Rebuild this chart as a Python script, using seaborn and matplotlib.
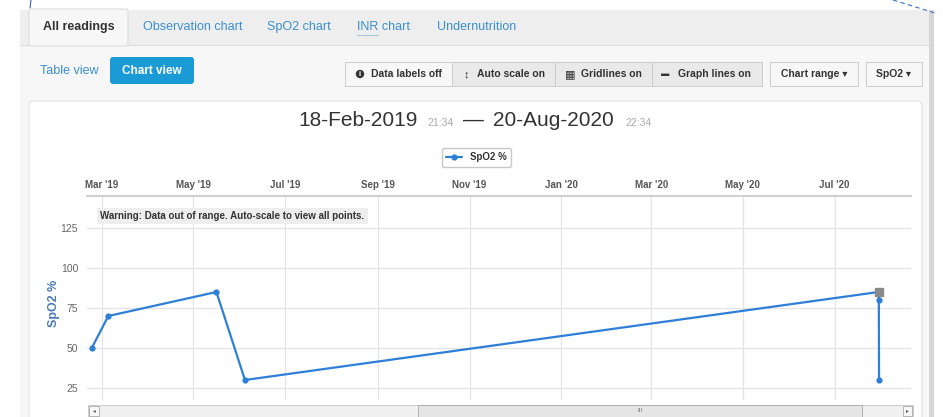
import numpy as np
import pandas as pd
import matplotlib
matplotlib.use("Agg")
import matplotlib.pyplot as plt
import matplotlib.dates as mdates
from matplotlib.patches import FancyBboxPatch, Rectangle, Circle
import seaborn as sns

# DATA
######################################################
reading_dates = ["2019-02-22 10:00", "2019-03-05 10:00", "2019-05-16 10:00",
                 "2019-06-04 10:00", "2020-07-30 08:00", "2020-07-30 12:00",
                 "2020-07-30 16:00"]
spo2_values = [50, 70, 85, 30, 85, 80, 30]
flagged_index = 4  # reading shown with the grey marker
range_start = "2019-02-18 21:34"
range_end = "2020-08-20 22:34"
y_ticks = [25, 50, 75, 100, 125]
tab_labels = ["All readings", "Observation chart", "SpO2 chart", "INR chart", "Undernutrition"]
toggle_labels = ["Data labels off", "Auto scale on", "Gridlines on", "Graph lines on"]
menu_labels = ["Chart range \u25be", "SpO2 \u25be"]

df = pd.DataFrame({"date": pd.to_datetime(reading_dates), "spo2": spo2_values})

# FIGURE / UI LAYER (pixel coordinates)
######################################################
sns.set_style("white")
plt.rcParams["font.family"] = ["Liberation Sans", "DejaVu Sans"]

W, H = 943, 417
fig = plt.figure(figsize=(W / 100, H / 100), dpi=100)
ui = fig.add_axes([0, 0, 1, 1], zorder=0)
ui.set_xlim(0, W)
ui.set_ylim(H, 0)
ui.axis("off")

def box(x0, y0, x1, y1, fc, ec="none", lw=0.8, r=0, z=1):
    style = "round,pad=0,rounding_size=%s" % r if r else "square,pad=0"
    p = FancyBboxPatch((x0, y0), x1 - x0, y1 - y0, boxstyle=style,
                       fc=fc, ec=ec, lw=lw, zorder=z)
    ui.add_patch(p)

def txt(x, y, s, size=8.5, color="#333333", weight="normal", ha="left", va="center", **kw):
    ui.text(x, y, s, fontsize=size, color=color, fontweight=weight, ha=ha, va=va, **kw)

# page background
box(20, 10, 930, 417, "#f7f7f7")
box(20, 10, 930, 45, "#eeeeee")
ui.plot([20, 930], [45, 45], color="#dddddd", lw=0.8)
box(929, 10, 934, 417, "#d6d6d6")
# screenshot annotations
ui.plot([31, 30], [0, 8], color="#3b5fc0", lw=0.8)
ui.plot([893, 935], [0, 13], color="#3b6fd0", lw=0.8, ls=(0, (4, 3)))

# tabs
box(29, 9, 128, 46, "#f7f7f7", ec="#dddddd", r=2, z=2)
txt(43, 27, tab_labels[0], size=9, weight="bold")
tab_x = [143, 267, 357, 437]
for x, lab in zip(tab_x, tab_labels[1:]):
    txt(x, 27, lab, size=9, color="#3a8fd0")
ui.plot([357, 378], [34.5, 34.5], color="#3a8fd0", lw=0.6, ls=(0, (1, 1)))

# view switch
txt(40, 71, "Table view", size=9, color="#3a8fd0")
box(110, 57, 194, 84, "#1a9bd6", r=3)
txt(152, 70.5, "Chart view", size=8.5, color="white", weight="bold", ha="center")

# toggle group
edges = [345, 452, 555, 652, 762]
fills = ["#f7f7f7", "#e9e9e9", "#e9e9e9", "#e9e9e9"]
for i in range(4):
    box(edges[i], 62, edges[i + 1], 86, fills[i], ec="#cccccc", lw=0.7)
icons_x = [360, 466, 570, 665]
ui.add_patch(Circle((icons_x[0], 74), 4.2, fc="#333333", ec="none", zorder=3))
txt(icons_x[0], 74, "i", size=5.5, color="white", weight="bold", ha="center")
txt(icons_x[1], 74, "\u2195", size=8, ha="center")
txt(icons_x[2], 74, "\u25a6", size=8, ha="center")
txt(icons_x[3], 74, "\u25ac", size=6, ha="center")
text_x = [371, 477, 581, 678]
for x, lab in zip(text_x, toggle_labels):
    txt(x, 74, lab, size=7.5, weight="bold")
box(770, 62, 858, 86, "#f7f7f7", ec="#cccccc", lw=0.7)
box(866, 62, 922, 86, "#f7f7f7", ec="#cccccc", lw=0.7)
txt(814, 74, menu_labels[0], size=7.5, weight="bold", ha="center")
txt(894, 74, menu_labels[1], size=7.5, weight="bold", ha="center")

# chart panel
box(29, 101, 922, 430, "white", ec="#e2e2e2", r=4)

# header with range
txt(298, 126, pd.Timestamp(range_start).strftime("%d-%b-%Y"), size=15, va="baseline")
txt(427, 126, pd.Timestamp(range_start).strftime("%H:%M"), size=7.5, color="#aaaaaa", va="baseline")
txt(463, 126, "\u2014", size=15, va="baseline")
txt(493, 126, pd.Timestamp(range_end).strftime("%d-%b-%Y"), size=15, va="baseline")
txt(625, 126, pd.Timestamp(range_end).strftime("%H:%M"), size=7.5, color="#aaaaaa", va="baseline")

# scrollbar
box(88, 405, 913, 420, "#f0f0f0", ec="#cccccc", lw=0.7)
box(89, 406, 99, 416, "#f6f6f6", ec="#aaaaaa", lw=0.6)
txt(94, 411, "\u25c2", size=4, color="#555555", ha="center")
box(418, 405, 862, 420, "#e5e5e5", ec="#b0b0b0", lw=0.7)
txt(640, 411, "III", size=4.5, color="#777777", ha="center")
box(903, 406, 912, 416, "#f6f6f6", ec="#aaaaaa", lw=0.6)
txt(907.5, 411, "\u25b8", size=4, color="#555555", ha="center")

# CHART
######################################################
left, right, top, bottom = 86.5, 911, 196, 400
ax = fig.add_axes([left / W, 1 - bottom / H, (right - left) / W, (bottom - top) / H], zorder=2)
ax.set_facecolor("white")

sns.lineplot(data=df, x="date", y="spo2", sort=False, estimator=None, marker="o",
             color="#2f7ed8", linewidth=1.6, markersize=4.5, markeredgewidth=0,
             label="SpO2 %", ax=ax)
ax.plot(df["date"].iloc[flagged_index], df["spo2"].iloc[flagged_index], "s",
        color="#8a8a8a", markersize=5.5, zorder=5)

ax.set_xlim(pd.Timestamp(range_start), pd.Timestamp(range_end))
ax.set_ylim(17.5, 145)
ax.set_yticks(y_ticks)
ax.xaxis.set_major_locator(mdates.MonthLocator(bymonth=[1, 3, 5, 7, 9, 11]))
ax.xaxis.set_major_formatter(mdates.DateFormatter("%b '%y"))
ax.xaxis.tick_top()
ax.tick_params(axis="x", length=0, pad=4, labelsize=7, labelcolor="#555555")
ax.tick_params(axis="y", length=0, pad=6, labelsize=7.5, labelcolor="#666666")
for lab in ax.get_xticklabels():
    lab.set_fontweight("bold")
ax.grid(True, color="#e4e4e4", lw=0.9)
for s in ["left", "right", "bottom"]:
    ax.spines[s].set_visible(False)
ax.spines["top"].set_color("#d0d0d0")
ax.spines["top"].set_linewidth(1.5)
ax.set_xlabel("")
ax.set_ylabel("SpO2 %", color="#4a7ab8", fontsize=9, fontweight="bold")
ax.yaxis.set_label_coords((60 - left) / (right - left), (bottom - 303) / (bottom - top))

ax.text(100, 216, "Warning: Data out of range. Auto-scale to view all points.",
        transform=ui.transData, fontsize=7, fontweight="bold", color="#333333",
        va="center", zorder=6,
        bbox=dict(boxstyle="square,pad=0.35", fc="#eeeeee", ec="none"))

ax.legend(loc="center", bbox_to_anchor=(476.5 / W, 1 - 157.5 / H), bbox_transform=fig.transFigure,
          prop=dict(weight="bold", size=7), frameon=True, fancybox=True, edgecolor="#bbbbbb",
          handlelength=1.6, borderpad=0.45, labelcolor="#333333")

fig.savefig("out.png", dpi=100)
